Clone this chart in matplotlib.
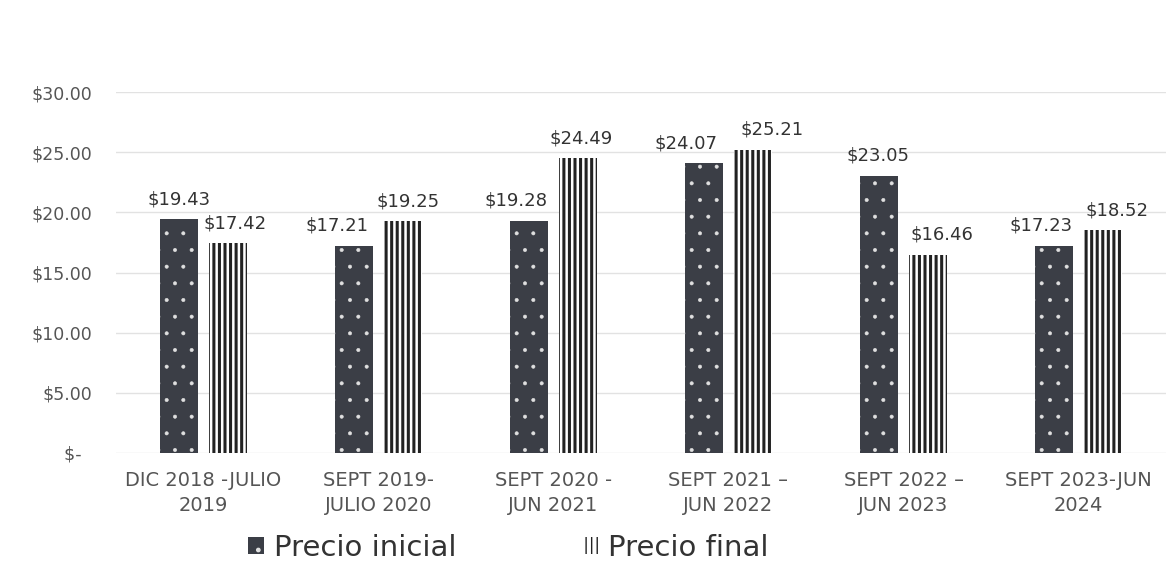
import numpy as np
import matplotlib.pyplot as plt
from matplotlib.patches import Patch

categories = ["DIC 2018 -JULIO\n2019", "SEPT 2019-\nJULIO 2020", "SEPT 2020 -\nJUN 2021",
              "SEPT 2021 –\nJUN 2022", "SEPT 2022 –\nJUN 2023", "SEPT 2023-JUN\n2024"]
precio_inicial = [19.43, 17.21, 19.28, 24.07, 23.05, 17.23]
precio_final = [17.42, 19.25, 24.49, 25.21, 16.46, 18.52]
y_ticks = [0, 5, 10, 15, 20, 25, 30]
y_tick_labels = ["$-  ", "$5.00", "$10.00", "$15.00", "$20.00", "$25.00", "$30.00"]

# small horizontal nudges (points) for value labels, like the original layout
nudge_ini = [0, -12, -9, -13, -1, -9]
nudge_fin = [5, 4, 2, 14, 10, 10]

plt.rcParams['font.family'] = ['DejaVu Sans']

dark = "#3b3e46"
txt = "#333333"
grey = "#555555"

fig = plt.figure(figsize=(11.67, 5.67), dpi=100)
ax = fig.add_axes([116 / 1167, 114 / 567, 1050 / 1167, (453 - 92) / 567])

x = np.arange(len(categories))
w = 0.22
off = 0.14

with plt.rc_context({'hatch.linewidth': 0.4}):
    b1 = ax.bar(x - off, precio_inicial, w, color=dark, edgecolor="#e0e0e0", linewidth=0, hatch=".", zorder=3)
with plt.rc_context({'hatch.linewidth': 2.2}):
    b2 = ax.bar(x + off, precio_final, w, color="white", edgecolor="#222222", linewidth=0, hatch="|||", zorder=3)

for i, r in enumerate(b1):
    ax.annotate(f"${precio_inicial[i]:.2f}", (r.get_x() + r.get_width() / 2, r.get_height()),
                xytext=(nudge_ini[i], 8), textcoords="offset points", ha="center", va="bottom",
                fontsize=13, color=txt, annotation_clip=False)
for i, r in enumerate(b2):
    ax.annotate(f"${precio_final[i]:.2f}", (r.get_x() + r.get_width() / 2, r.get_height()),
                xytext=(nudge_fin[i], 8), textcoords="offset points", ha="center", va="bottom",
                fontsize=13, color=txt, annotation_clip=False)

ax.set_xlim(-0.5, len(categories) - 0.5)
ax.set_ylim(0, 30)
ax.set_yticks(y_ticks)
ax.set_yticklabels(y_tick_labels, fontsize=12.5, color=grey)
ax.set_xticks(x)
ax.set_xticklabels(categories, fontsize=14, color=grey, linespacing=1.4)
ax.tick_params(axis="both", length=0)
ax.tick_params(axis="y", pad=17)
ax.tick_params(axis="x", pad=13)
for s in ax.spines.values():
    s.set_visible(False)
ax.yaxis.grid(True, color="#e2e2e2", linewidth=1, zorder=0)
ax.set_axisbelow(True)

with plt.rc_context({'hatch.linewidth': 0.4}):
    h1 = Patch(facecolor=dark, edgecolor="#e0e0e0", linewidth=0, hatch=".")
with plt.rc_context({'hatch.linewidth': 2.2}):
    h2 = Patch(facecolor="white", edgecolor="#222222", linewidth=0, hatch="|||")
fig.legend([h1, h2], ["Precio inicial", "Precio final"], loc="center", bbox_to_anchor=(508 / 1167, 1 - 548 / 567),
           ncol=2, frameon=False, fontsize=21, handlelength=0.55, handleheight=0.55, handletextpad=0.35,
           columnspacing=4.3, labelcolor="#333333")

fig.savefig("out.png", dpi=100)
